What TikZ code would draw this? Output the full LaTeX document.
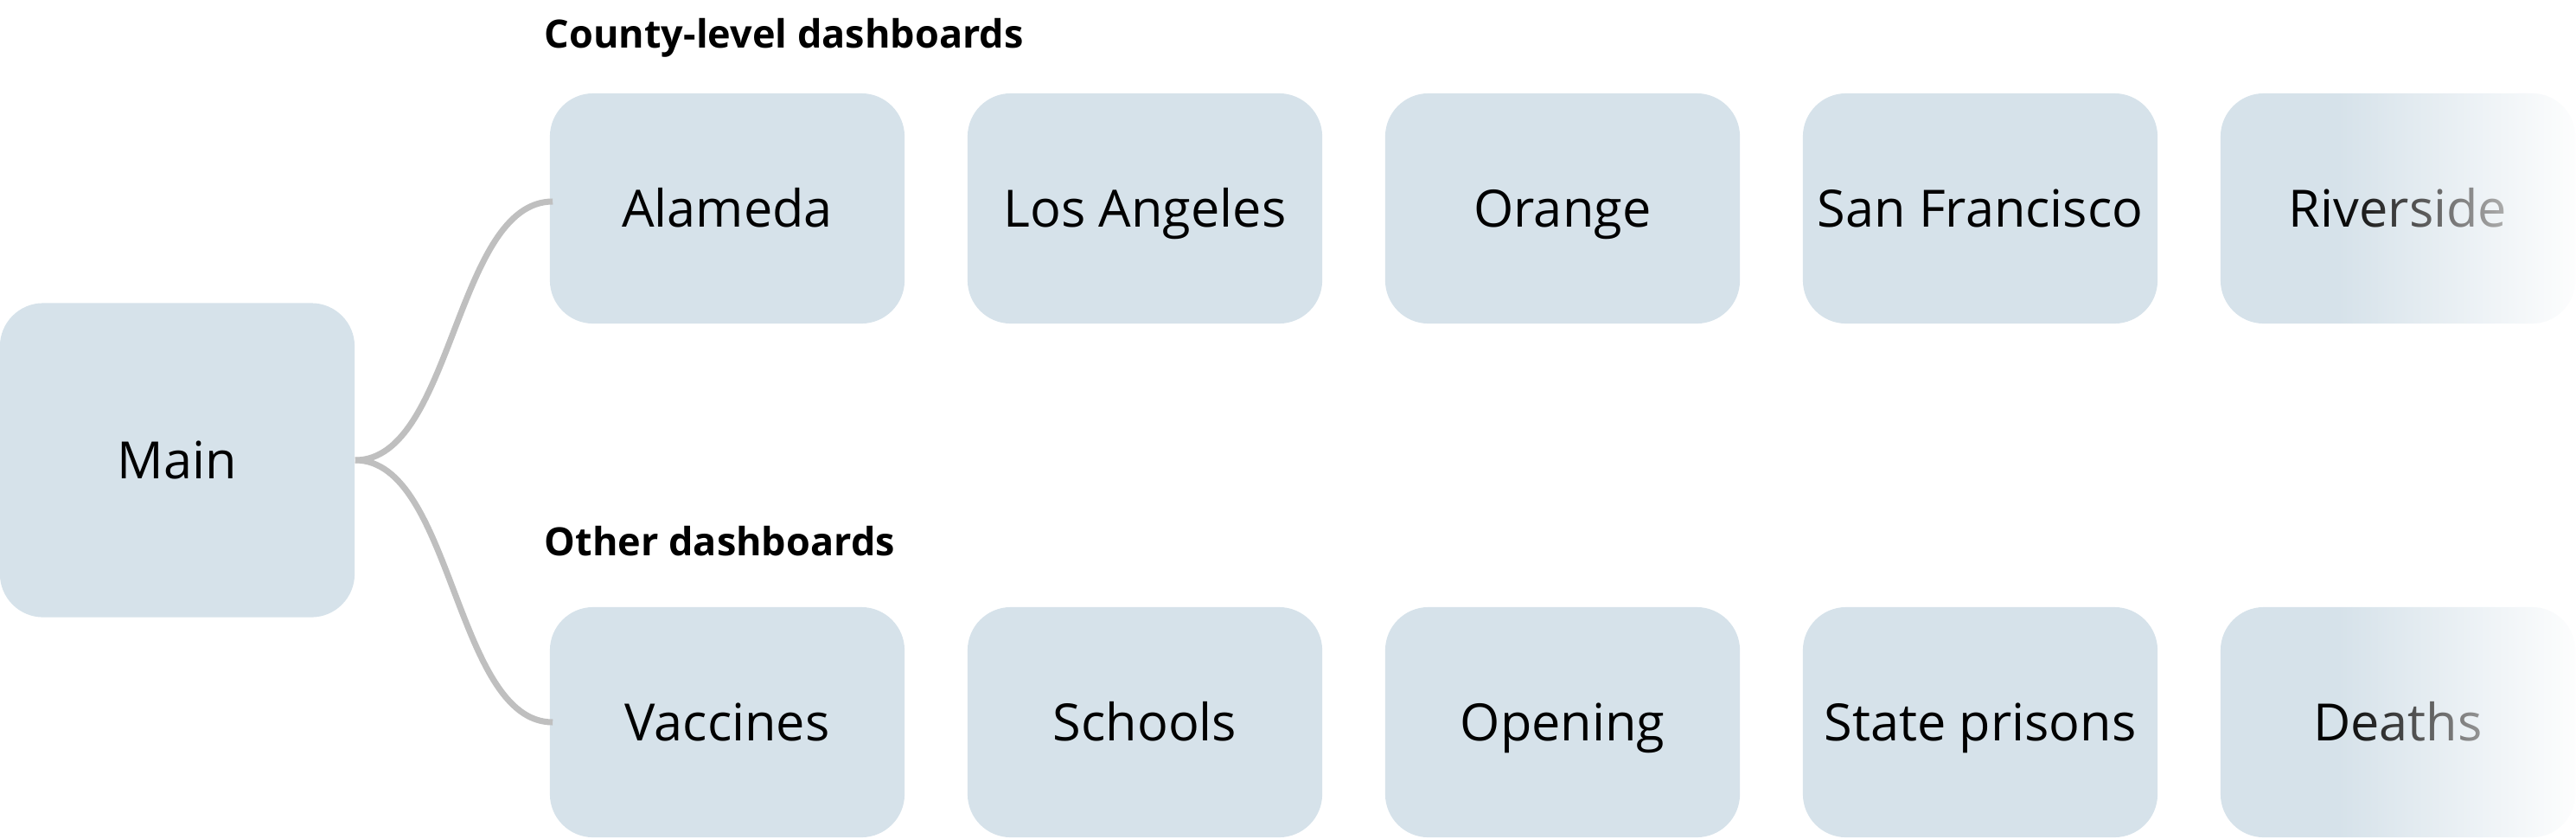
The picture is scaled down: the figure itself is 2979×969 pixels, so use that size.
\documentclass[tikz,border=0pt]{standalone}
\usepackage{fontspec}
\setmainfont{Open Sans}
\usetikzlibrary{fadings}

\definecolor{boxblue}{HTML}{D6E2EA}
\definecolor{linkgray}{HTML}{BFBFBF}
\tikzfading[name=faderight, left color=transparent!100, right color=transparent!4]

\begin{document}
\begin{tikzpicture}[x=0.01cm,y=-0.01cm,
  dashbox/.style={fill=boxblue,rounded corners=0.5cm,minimum width=4.1cm,minimum height=2.66cm,
    font=\fontsize{16.9}{20}\selectfont,inner sep=0pt,text height=0.43cm,text depth=0cm},
  heading/.style={anchor=base west,font=\fontsize{12.8}{15}\selectfont\bfseries,inner sep=0pt},
  link/.style={draw=linkgray,line width=2pt}]
\useasboundingbox (0,0) rectangle (2979,969);

\node[dashbox,minimum height=3.63cm] (main) at (205,532) {Main};

\node[heading] (county) at (629,55) {County-level dashboards};
\node[heading] (other) at (629,642) {Other dashboards};

\foreach \name/\txt [count=\i from 0] in {c1/Alameda,c2/Los Angeles,c3/Orange,c4/San Francisco,c5/Riverside}
   \node[dashbox] (\name) at (841+483*\i,241) {\txt};
\foreach \name/\txt [count=\i from 0] in {o1/Vaccines,o2/Schools,o3/Opening,o4/State prisons,o5/Deaths}
   \node[dashbox] (\name) at (841+483*\i,835) {\txt};

\draw[link] (main.east) .. controls +(113,0) and +(-113,0) .. ([xshift=0.04cm,yshift=0.08cm]c1.west);
\draw[link] (main.east) .. controls +(113,0) and +(-113,0) .. ([xshift=0.04cm]o1.west);

% fade out the last column
\fill[white,path fading=faderight] (2700,90) rectangle (2979,969);
\end{tikzpicture}
\end{document}
